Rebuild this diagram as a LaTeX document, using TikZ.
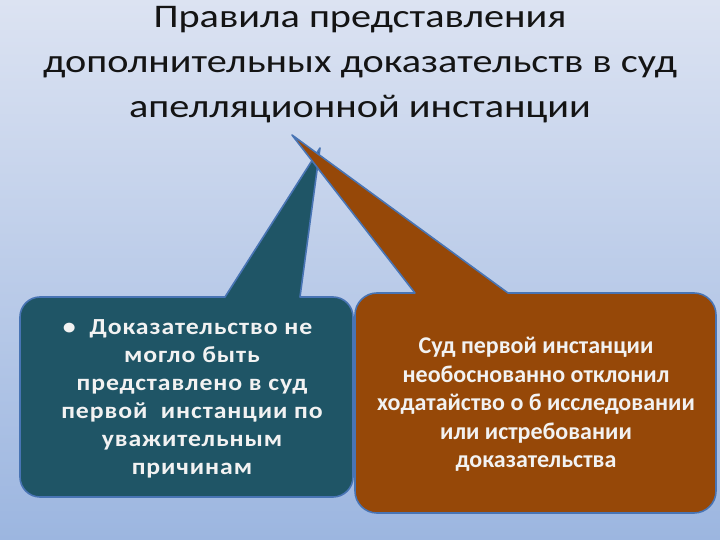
\documentclass[tikz,border=0pt]{standalone}
\usepackage{fontspec}
\setmainfont{Carlito}
\newfontfamily\titlefont{Carlito}[FakeStretch=1.22]
\newfontfamily\spacedfont{Carlito}[FakeStretch=1.12,LetterSpace=4]
\definecolor{bgtop}{RGB}{220,227,242}
\definecolor{bgbot}{RGB}{156,182,224}
\definecolor{tealbox}{RGB}{31,85,102}
\definecolor{brownbox}{RGB}{150,72,8}
\definecolor{boxline}{RGB}{72,116,180}
\definecolor{boxtext}{RGB}{242,242,242}
\definecolor{titletext}{RGB}{20,20,20}
\begin{document}
\begin{tikzpicture}[x=1pt,y=1pt,
  callout/.style={draw=boxline,line width=1.6pt,line join=round},
  boxlabel/.style={inner sep=0pt,anchor=base,align=center,text=boxtext}]
\useasboundingbox (0,0) rectangle (720,540);
\shade[top color=bgtop,bottom color=bgbot] (0,0) rectangle (720,540);
% title
\node[inner sep=0pt,anchor=base,align=center,text=titletext,
  font=\titlefont\fontsize{33}{45}\selectfont] (title) at (360,422)
  {Правила представления\\дополнительных доказательств в суд\\апелляционной инстанции};
% left callout
\path[callout,fill=tealbox] (20,63) -- (20,223) arc[start angle=180,end angle=90,radius=20]
  -- (225,243) -- (320,392) -- (300,243) -- (333,243)
  arc[start angle=90,end angle=0,radius=20] -- (353,63)
  arc[start angle=0,end angle=-90,radius=20] -- (40,43)
  arc[start angle=270,end angle=180,radius=20] -- cycle;
% right callout
\path[callout,fill=brownbox] (355,49) -- (355,225) arc[start angle=180,end angle=90,radius=22]
  -- (415,247) -- (292,405) -- (508,247) -- (694,247)
  arc[start angle=90,end angle=0,radius=22] -- (716,49)
  arc[start angle=0,end angle=-90,radius=22] -- (377,27)
  arc[start angle=270,end angle=180,radius=22] -- cycle;
% texts
\node[boxlabel,font=\spacedfont\fontsize{23}{28}\selectfont\bfseries] (lefttext) at (192,65)
  {\hspace*{18pt}\makebox[0pt][r]{•\hspace{14pt}}Доказательство не\\могло быть\\представлено в суд\\первой\ \ инстанции по\\уважительным\\причинам};
\node[boxlabel,font=\fontsize{24}{28.5}\selectfont\bfseries] (righttext) at (536,72)
  {Суд первой инстанции\\необоснованно отклонил\\ходатайство о б исследовании\\или истребовании\\доказательства};
\end{tikzpicture}
\end{document}
